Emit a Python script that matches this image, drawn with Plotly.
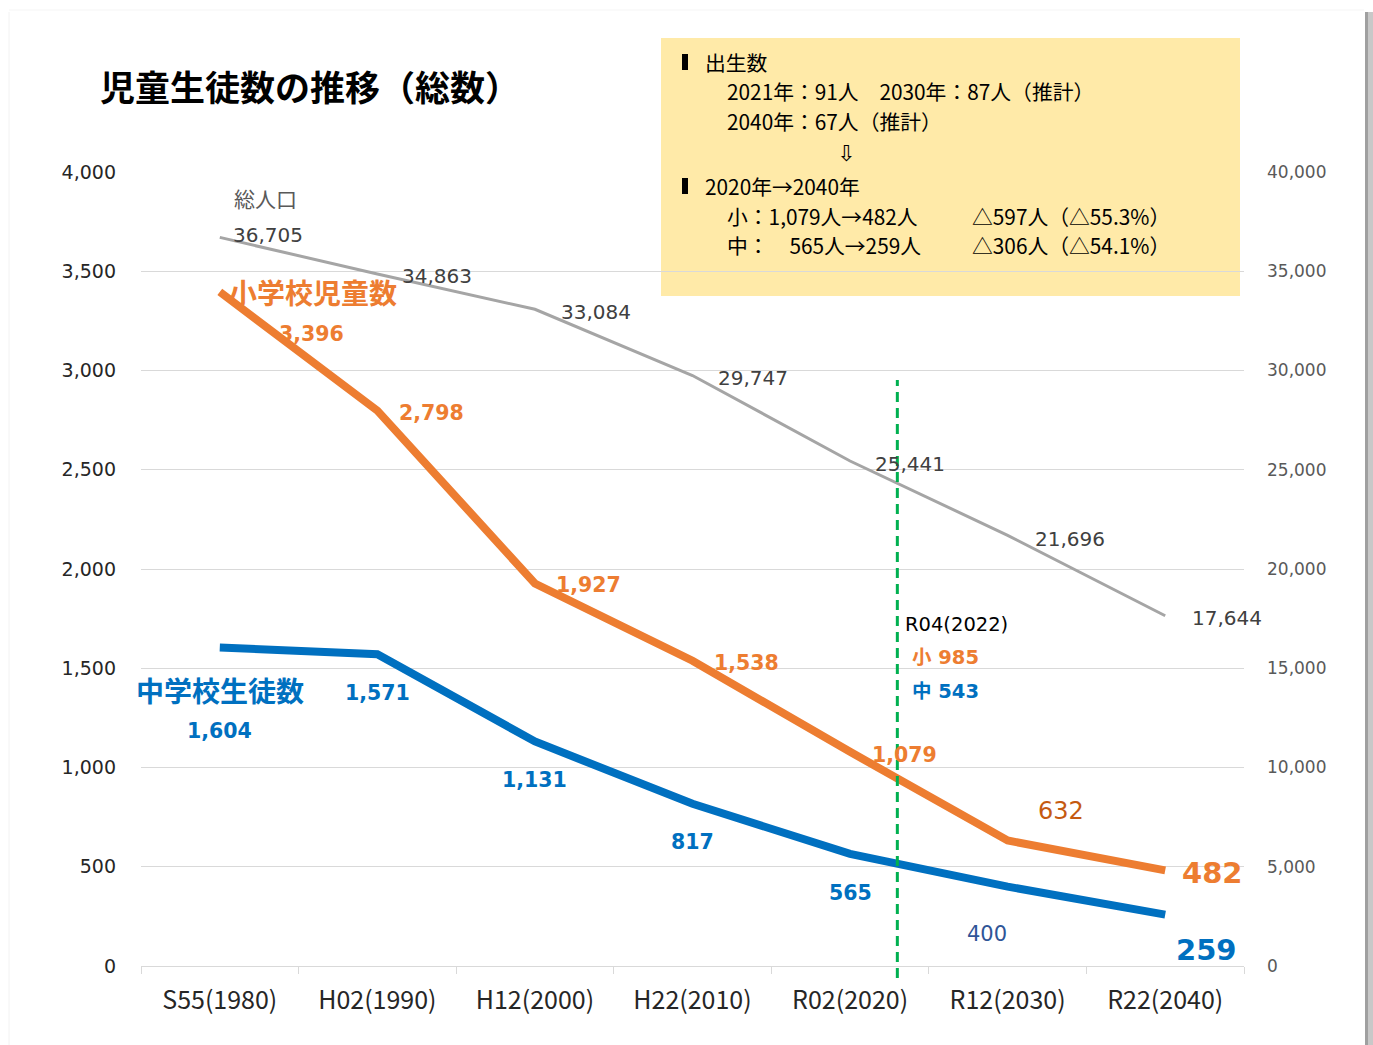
import plotly.graph_objects as go

# ---------------- data ----------------
categories = ["S55(1980)", "H02(1990)", "H12(2000)", "H22(2010)", "R02(2020)", "R12(2030)", "R22(2040)"]
elementary = [3396, 2798, 1927, 1538, 1079, 632, 482]      # 小学校児童数
junior_high = [1604, 1571, 1131, 817, 565, 400, 259]       # 中学校生徒数
population = [36705, 34863, 33084, 29747, 25441, 21696, 17644]  # 総人口
left_ticks = [0, 500, 1000, 1500, 2000, 2500, 3000, 3500, 4000]
right_ticks = [0, 5000, 10000, 15000, 20000, 25000, 30000, 35000, 40000]
r04_label = "R04(2022)"
r04_elementary = 985
r04_junior = 543

# ---------------- layout helpers (pixel -> paper) ----------------
W, H = 1373, 1045
L, R, T, B = 141, 129, 172, 79
PW, PH = W - L - R, H - T - B


def fx(px):
    return (px - L) / PW


def fy(py):
    return (H - B - py) / PH


ORANGE = "#ED7D31"
BLUE = "#0070C0"
GRAY = "#A5A5A5"
JP = "Noto Sans CJK JP"
LAT = "DejaVu Sans, Noto Sans CJK JP"

fig = go.Figure()
fig.add_trace(go.Scatter(x=categories, y=population, yaxis="y2", mode="lines",
                         line=dict(color=GRAY, width=3), hoverinfo="skip"))
fig.add_trace(go.Scatter(x=categories, y=elementary, mode="lines",
                         line=dict(color=ORANGE, width=8), hoverinfo="skip"))
fig.add_trace(go.Scatter(x=categories, y=junior_high, mode="lines",
                         line=dict(color=BLUE, width=8), hoverinfo="skip"))

ann = []

# population labels
pop_dx = [48, 60, 61, 60, 60, 62, 62]
pop_dy = [2, -2, -3, -2, -3, -4, -2]
for i, v in enumerate(population):
    ann.append(dict(x=categories[i], y=v, xref="x", yref="y2", text=f"{v:,}",
                    showarrow=False, xanchor="center", yanchor="middle",
                    xshift=pop_dx[i], yshift=pop_dy[i],
                    font=dict(family=LAT, size=20, color="#404040")))

# elementary labels
el_dx = [92, 54, 54, 54, 54, 53, 47]
el_dy = [-42, -2, -2, -2, -3, 30, -3]
for i, v in enumerate(elementary):
    if i == len(elementary) - 1:
        f = dict(family=LAT, size=29, color=ORANGE, weight="bold")
    elif i == 5:
        f = dict(family=LAT, size=24, color="#C55A11")
    else:
        f = dict(family=LAT, size=20.5, color=ORANGE, weight="bold")
    ann.append(dict(x=categories[i], y=v, xref="x", yref="y", text=f"{v:,}",
                    showarrow=False, xanchor="center", yanchor="middle",
                    xshift=el_dx[i], yshift=el_dy[i], font=f))

# junior high labels
jh_dx = [0, 0, 0, 0, 0, -21, 41]
jh_dy = [-83, -39, -38, -38, -39, -47, -35]
for i, v in enumerate(junior_high):
    if i == len(junior_high) - 1:
        f = dict(family=LAT, size=29, color=BLUE, weight="bold")
    elif i == 5:
        f = dict(family=LAT, size=21, color="#2F5597")
    else:
        f = dict(family=LAT, size=20.5, color=BLUE, weight="bold")
    ann.append(dict(x=categories[i], y=v, xref="x", yref="y", text=f"{v:,}",
                    showarrow=False, xanchor="center", yanchor="middle",
                    xshift=jh_dx[i], yshift=jh_dy[i], font=f))

# series names
ann.append(dict(x=0.292, y=38690, xref="x", yref="y2", text="総人口", showarrow=False,
                xanchor="center", yanchor="middle", font=dict(family=JP, size=21, color="#595959")))
ann.append(dict(x=0.59, y=3395, xref="x", yref="y", text="小学校児童数", showarrow=False,
                xanchor="center", yanchor="middle",
                font=dict(family=JP, size=28, color=ORANGE, weight="bold")))
ann.append(dict(x=0, y=1390, xref="x", yref="y", text="中学校生徒数", showarrow=False,
                xanchor="center", yanchor="middle",
                font=dict(family=JP, size=28, color=BLUE, weight="bold")))

# R04 annotations
VX = 4.3
ann.append(dict(x=VX, y=1718, xref="x", yref="y", text=r04_label, showarrow=False,
                xanchor="left", yanchor="middle", xshift=6,
                font=dict(family=LAT, size=19.5, color="#000000")))
ann.append(dict(x=VX, y=1552, xref="x", yref="y", text=f"小 {r04_elementary}", showarrow=False,
                xanchor="left", yanchor="middle", xshift=13,
                font=dict(family=LAT, size=19.5, color=ORANGE, weight="bold")))
ann.append(dict(x=VX, y=1385, xref="x", yref="y", text=f"中 {r04_junior}", showarrow=False,
                xanchor="left", yanchor="middle", xshift=13,
                font=dict(family=LAT, size=19.5, color=BLUE, weight="bold")))

# title
ann.append(dict(x=fx(98), y=fy(85), xref="paper", yref="paper", text="児童生徒数の推移（総数）",
                showarrow=False, xanchor="left", yanchor="middle",
                font=dict(family=JP, size=35, color="#000000", weight="bold")))

# info box text
box_lines = [
    (703, 62, "出生数"),
    (725, 91, "2021年：91人　2030年：87人（推計）"),
    (725, 121, "2040年：67人（推計）"),
    (703, 186, "2020年→2040年"),
    (725, 216, "小：1,079人→482人"),
    (970, 216, "△597人（△55.3%）"),
    (725, 245, "中：　565人→259人"),
    (970, 245, "△306人（△54.1%）"),
]
for px, py, t in box_lines:
    ann.append(dict(x=fx(px), y=fy(py), xref="paper", yref="paper", text=t, showarrow=False,
                    xanchor="left", yanchor="middle",
                    font=dict(family=JP, size=20.8, color="#000000")))
ann.append(dict(x=fx(846), y=fy(153), xref="paper", yref="paper", text="⇩", showarrow=False,
                xanchor="center", yanchor="middle",
                font=dict(family="DejaVu Sans", size=22, color="#000000")))

shapes = [
    # info box
    dict(type="rect", xref="paper", yref="paper", x0=fx(661), x1=fx(1240), y0=fy(296), y1=fy(38),
         fillcolor="rgba(255,230,153,0.85)", line=dict(width=0), layer="between"),
    # bullets
    dict(type="rect", xref="paper", yref="paper", x0=fx(682), x1=fx(688), y0=fy(70), y1=fy(54),
         fillcolor="#000000", line=dict(width=0), layer="above"),
    dict(type="rect", xref="paper", yref="paper", x0=fx(682), x1=fx(688), y0=fy(194), y1=fy(178),
         fillcolor="#000000", line=dict(width=0), layer="above"),
    # R04 dashed line
    dict(type="line", xref="x", yref="paper", x0=VX, x1=VX, y0=fy(978), y1=fy(380),
         line=dict(color="#00B050", width=3, dash="10px,6px"), layer="above"),
    # frame / shadow
    dict(type="line", xref="paper", yref="paper", x0=fx(9), x1=fx(9), y0=fy(1045), y1=fy(12),
         line=dict(color="#f2f2f2", width=1)),
    dict(type="line", xref="paper", yref="paper", x0=fx(9), x1=fx(1364), y0=fy(10), y1=fy(10),
         line=dict(color="#f5f5f5", width=1)),
    dict(type="rect", xref="paper", yref="paper", x0=fx(1365), x1=fx(1368), y0=fy(1045), y1=fy(12),
         fillcolor="#a0a0a0", line=dict(width=0)),
    dict(type="rect", xref="paper", yref="paper", x0=fx(1368), x1=fx(1373), y0=fy(1045), y1=fy(12),
         fillcolor="#c8c8c8", line=dict(width=0)),
]

fig.update_layout(
    width=W, height=H,
    margin=dict(l=L, r=R, t=T, b=B, pad=0),
    paper_bgcolor="white", plot_bgcolor="white",
    showlegend=False, hovermode=False,
    annotations=ann, shapes=shapes,
    xaxis=dict(type="category", categoryorder="array", categoryarray=categories,
               range=[-0.5, 6.5], tickson="boundaries", ticks="outside", ticklen=7,
               tickcolor="#d9d9d9", showline=True, linecolor="#d9d9d9", linewidth=1,
               showgrid=False, ticklabelstandoff=12,
               tickfont=dict(family=JP, size=25, color="#262626")),
    yaxis=dict(range=[0, 4000], tickvals=left_ticks, tickformat=",", showgrid=True,
               gridcolor="#d9d9d9", gridwidth=1, zeroline=False, showline=False,
               ticks="", ticklabelstandoff=24,
               tickfont=dict(family="DejaVu Sans", size=19, color="#262626")),
    yaxis2=dict(range=[0, 40000], tickvals=right_ticks, tickformat=",", overlaying="y",
                side="right", showgrid=False, zeroline=False, showline=False, ticks="",
                ticklabelstandoff=22,
                tickfont=dict(family="DejaVu Sans", size=17, color="#595959")),
)

fig.write_html("out.html")
